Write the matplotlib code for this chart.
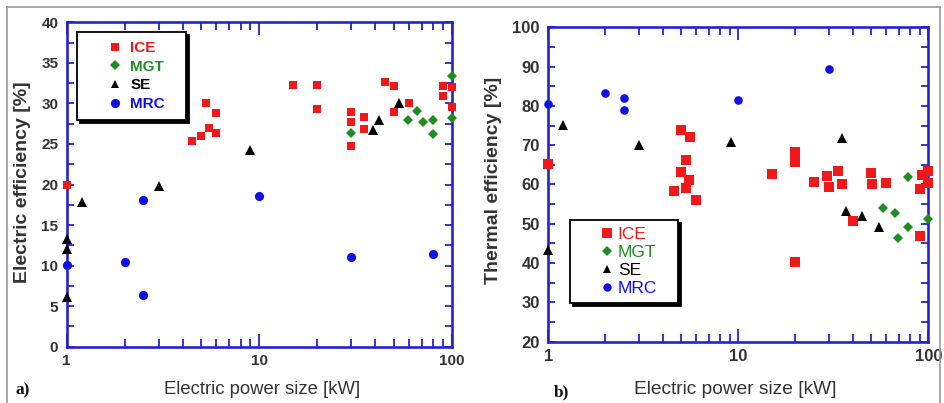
import matplotlib
matplotlib.use("Agg")
import matplotlib.pyplot as plt
from matplotlib.lines import Line2D
from matplotlib.ticker import FixedLocator, NullFormatter, MultipleLocator

# ---------------- data ----------------
# (a) electric efficiency
ice_el_x = [1, 4.5, 5, 5.3, 5.5, 6, 6, 15, 20, 20, 30, 30, 30, 35, 35, 45, 50, 50, 60, 90, 90, 100, 100]
ice_el_y = [20, 25.4, 26.0, 30.0, 27.0, 26.3, 28.8, 32.3, 32.3, 29.3, 29.0, 27.7, 24.7, 28.3, 26.9,
            32.6, 32.2, 28.9, 30.1, 32.1, 30.9, 32.0, 29.5]
mgt_el_x = [30, 59, 66, 71, 80, 80, 100, 100]
mgt_el_y = [26.3, 27.9, 29.1, 27.7, 27.9, 26.2, 33.4, 28.2]
se_el_x = [1, 1, 1, 1.2, 3, 9, 39, 42, 53]
se_el_y = [13.3, 12.0, 6.1, 17.9, 19.8, 24.2, 26.7, 27.9, 30.1]
mrc_el_x = [1, 2, 2.5, 2.5, 10, 30, 80]
mrc_el_y = [10.1, 10.4, 6.4, 18.1, 18.6, 11.0, 11.4]

# (b) thermal efficiency
ice_th_x = [1, 5.0, 5.6, 5.3, 5.0, 5.5, 4.6, 5.3, 6.0, 15, 20, 20, 20, 25, 29.4, 30, 33.4, 35,
            50, 50.7, 60, 40, 90, 93, 100, 100, 90]
ice_th_y = [65.2, 73.9, 72.2, 66.2, 63.1, 61.1, 58.4, 59.0, 56.0, 62.6, 68.3, 65.8, 40.2, 60.7,
            62.2, 59.4, 63.4, 60.0, 62.8, 60.1, 60.5, 50.8, 58.8, 62.4, 63.5, 60.3, 47.0]
mgt_th_x = [78.5, 57.5, 67, 78.5, 69, 100]
mgt_th_y = [61.8, 53.9, 52.8, 49.3, 46.5, 51.1]
se_th_x = [1.2, 3, 9.1, 35, 1, 37, 45, 55]
se_th_y = [75.1, 70.0, 70.9, 71.9, 43.3, 53.3, 52.1, 49.3]
mrc_th_x = [1, 2, 2.5, 2.5, 10, 30]
mrc_th_y = [80.4, 83.2, 82.1, 79.0, 81.6, 89.3]

series_names = ["ICE", "MGT", "SE", "MRC"]
x_tick_vals = [1, 10, 100]
x_tick_labels = ["1", "10", "100"]

# ---------------- style ----------------
RED = "#f01818"
GREEN = "#1f8c1f"
BLACK = "#000000"
BLUE = "#1010e6"
SPINE = "#2323cf"
TXT = "#333333"
colors = [RED, GREEN, BLACK, BLUE]
markers = ["s", "D", "^", "o"]

plt.rcParams["font.family"] = ["Liberation Sans", "DejaVu Sans"]

W, H = 944, 403
fig = plt.figure(figsize=(W / 100, H / 100), dpi=100)


def fx(px):
    return px / W


def fy(py):
    return 1 - py / H


def style_axes(ax, tick_fs, ymax, ymajor, yminor):
    ax.set_xscale("log")
    ax.set_xlim(1, 100)
    ax.set_ylim(0 if ymax == 40 else 20, ymax)
    for s in ax.spines.values():
        s.set_color(SPINE)
        s.set_linewidth(1.9)
    ax.xaxis.set_major_locator(FixedLocator(x_tick_vals))
    ax.set_xticklabels(x_tick_labels)
    ax.xaxis.set_minor_formatter(NullFormatter())
    ax.yaxis.set_major_locator(MultipleLocator(ymajor))
    ax.yaxis.set_minor_locator(MultipleLocator(yminor))
    ax.tick_params(which="both", direction="in", top=True, right=True,
                   color=SPINE, width=1.3, labelcolor=TXT)
    ax.xaxis.set_tick_params(which="major", length=9.5, pad=5)
    ax.xaxis.set_tick_params(which="minor", length=5.5)
    ax.yaxis.set_tick_params(which="both", length=5, pad=6)
    for lab in ax.get_xticklabels() + ax.get_yticklabels():
        lab.set_fontweight("bold")
        lab.set_fontsize(tick_fs)


# ---------------- panel (a) ----------------
axa = fig.add_axes([fx(66.7), fy(346.7), fx(451.7) - fx(66.7), fy(22.3) - fy(346.7)])
axa.plot(ice_el_x, ice_el_y, "s", color=RED, ms=5.2, mew=0, clip_on=False, zorder=3)
axa.plot(mgt_el_x, mgt_el_y, "D", color=GREEN, ms=4.8, mew=0, clip_on=False, zorder=3)
axa.plot(se_el_x, se_el_y, "^", color=BLACK, ms=7.2, mew=0, clip_on=False, zorder=3)
axa.plot(mrc_el_x, mrc_el_y, "o", color=BLUE, ms=6.6, mew=0, clip_on=False, zorder=3)
style_axes(axa, 11, 40, 5, 2.5)

# ---------------- panel (b) ----------------
axb = fig.add_axes([fx(548.3), fy(341.7), fx(928.3) - fx(548.3), fy(27.3) - fy(341.7)])
axb.plot(ice_th_x, ice_th_y, "s", color=RED, ms=7.6, mew=0, clip_on=False, zorder=3)
axb.plot(mgt_th_x, mgt_th_y, "D", color=GREEN, ms=5.2, mew=0, clip_on=False, zorder=3)
axb.plot(se_th_x, se_th_y, "^", color=BLACK, ms=7.0, mew=0, clip_on=False, zorder=3)
axb.plot(mrc_th_x, mrc_th_y, "o", color=BLUE, ms=6.2, mew=0, clip_on=False, zorder=3)
style_axes(axb, 12, 100, 10, 5)

# ---------------- legends ----------------
def make_legend(ax, bbox, fs, weight, msizes, bpad, hlen, htpad, lspace):
    handles = [Line2D([], [], ls="none", marker=m, color=c, ms=s, mew=0)
               for m, c, s in zip(markers, colors, msizes)]
    leg = ax.legend(handles, series_names, loc="upper left", bbox_to_anchor=bbox,
                    mode="expand", borderaxespad=0, fancybox=False,
                    shadow={"color": "black", "alpha": 1.0},
                    prop={"size": fs, "weight": weight},
                    borderpad=bpad, handlelength=hlen, handletextpad=htpad,
                    labelspacing=lspace, numpoints=1, framealpha=1)
    leg.get_frame().set_edgecolor("black")
    leg.get_frame().set_linewidth(1.3)
    for t, c in zip(leg.get_texts(), colors):
        t.set_color(c)
    leg.set_zorder(5)
    return leg

make_legend(axa, (0.0268, 0.5, 0.283, 0.47), 11, "bold", [5.2, 4.6, 6.4, 6.6],
            0.6, 3.8, -0.9, 0.3)
make_legend(axb, (0.057, 0.1, 0.284, 0.287), 12.5, "normal", [7.2, 5.0, 6.4, 6.0],
            0.4, 3.5, -1.15, 0.16)

# ---------------- labels ----------------
fig.text(fx(262), fy(390), "Electric power size [kW]", ha="center", va="center",
         fontsize=13.3, color=TXT)
fig.text(fx(735.5), fy(390), "Electric power size [kW]", ha="center", va="center",
         fontsize=13.8, color=TXT)
fig.text(fx(23), fy(182.5), "Electric efficiency [%]", ha="center", va="center",
         rotation=90, fontsize=14, fontweight="bold", color=TXT)
fig.text(fx(493), fy(180.5), "Thermal efficiency [%]", ha="center", va="center",
         rotation=90, fontsize=14, fontweight="bold", color=TXT)
fig.text(fx(23), fy(390.7), "a)", ha="center", va="center", fontsize=12.5,
         fontweight="bold", family=["Liberation Serif", "DejaVu Serif"], color="#111111")
fig.text(fx(562), fy(392.7), "b)", ha="center", va="center", fontsize=12.5,
         fontweight="bold", family=["Liberation Serif", "DejaVu Serif"], color="#111111")

# outer grey frame
fig.add_artist(Line2D([fx(7), fx(940)], [fy(7), fy(7)], color="#9a9a9a", lw=1.2))
fig.add_artist(Line2D([fx(7), fx(7)], [fy(7), fy(403)], color="#9a9a9a", lw=1.2))
fig.add_artist(Line2D([fx(940), fx(940)], [fy(7), fy(403)], color="#9a9a9a", lw=1.2))

fig.savefig("out.png", dpi=100)
